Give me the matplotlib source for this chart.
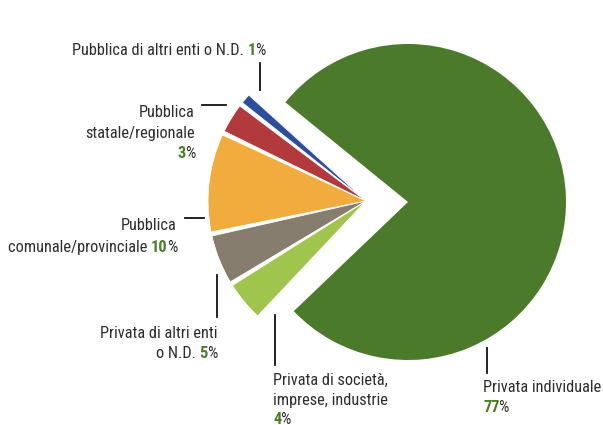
import matplotlib
matplotlib.use("Agg")
import matplotlib.pyplot as plt

# ---- data ----
categories = ["Privata individuale", "Pubblica di altri enti o N.D.",
              "Pubblica statale/regionale", "Pubblica comunale/provinciale",
              "Privata di altri enti o N.D.", "Privata di società, imprese, industrie"]
values = [77, 1, 3, 10, 5, 4]
colors = ["#4b7b2a", "#2b4f9e", "#b23a3c", "#f1ac3d", "#877d6f", "#9fc54c"]

W, H = 603, 425
fig = plt.figure(figsize=(W / 100, H / 100), dpi=100)
ax = fig.add_axes([0, 0, 1, 1])

TXT = "#2e2e2e"
NUM = "#4a7f27"
FAM = ["Roboto Condensed", "DejaVu Sans"]
FS = 11.8

start = 223.7
# big slice
w1, _ = ax.pie(values, colors=colors, startangle=start, counterclock=True,
               center=(408, H - 202), radius=158,
               wedgeprops=dict(linewidth=0))
for i, w in enumerate(w1):
    if i != 0:
        w.set_visible(False)
# small slices, shifted left as a group and fanned out slightly
w2, _ = ax.pie(values, colors=colors, startangle=start, counterclock=True,
               center=(366, H - 201), radius=158,
               wedgeprops=dict(linewidth=0.6, edgecolor="white"))
w2[0].set_visible(False)
spread = 1.5
for k, w in enumerate(w2[1:]):
    off = (k - 2) * spread
    w.set_theta1(w.theta1 + off)
    w.set_theta2(w.theta2 + off)

ax.set_xlim(0, W)
ax.set_ylim(0, H)
ax.axis("off")

fig.canvas.draw()
renderer = fig.canvas.get_renderer()


def segs(x, y, parts, ha="left"):
    """parts: list of (text, is_number)"""
    objs = []
    for s, isnum in parts:
        t = ax.text(0, 0, s, fontsize=FS, family=FAM,
                    color=NUM if isnum else TXT,
                    fontweight="bold" if isnum else "normal",
                    va="center", ha="left")
        objs.append((t, isnum))
    widths = [t.get_window_extent(renderer).width - (1.0 if isnum else 0.0)
              for t, isnum in objs]
    total = sum(widths)
    cx = x if ha == "left" else x - total
    for (t, _), wdt in zip(objs, widths):
        t.set_position((cx, H - y))
        cx += wdt


def line(x0, y0, x1, y1):
    ax.plot([x0, x1], [H - y0, H - y1], color="#111111", lw=1.3)


# labels
segs(265, 50, [("Pubblica di altri enti o N.D. ", False), ("1", True), ("%", False)], ha="right")
line(260, 63, 260, 90)

segs(195, 112, [("Pubblica", False)], ha="right")
segs(195, 133, [("statale/regionale", False)], ha="right")
segs(195, 153, [("3", True), ("%", False)], ha="right")
line(202, 105, 226, 105)

segs(177, 225, [("Pubblica", False)], ha="right")
segs(177, 247, [("comunale/provinciale ", False), ("10", True), ("%", False)], ha="right")
line(185, 218, 204, 218)

segs(217, 333, [("Privata di altri enti", False)], ha="right")
segs(217, 353, [("o N.D. ", False), ("5", True), ("%", False)], ha="right")
line(217, 275, 217, 317)

segs(273, 380, [("Privata di società,", False)])
segs(273, 400, [("imprese, industrie", False)])
segs(273, 419, [("4", True), ("%", False)])
line(275, 315, 275, 365)

segs(483, 388, [("Privata individuale", False)])
segs(483, 408, [("77", True), ("%", False)])
line(487, 348, 487, 373)

fig.savefig("out.png", dpi=100, facecolor="white")
